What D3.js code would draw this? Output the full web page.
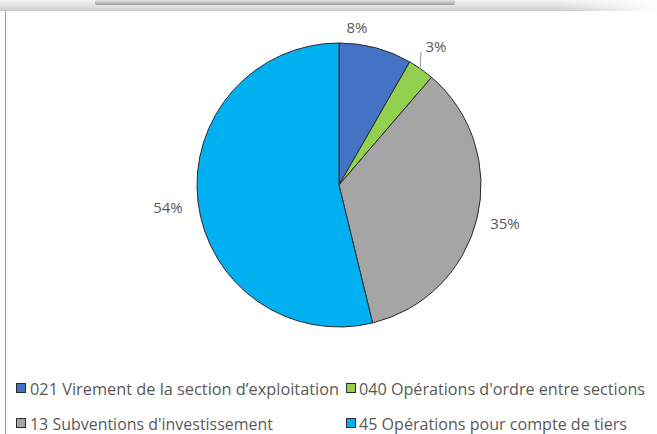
<!DOCTYPE html>
<html><head><meta charset="utf-8">
<script src="https://cdn.jsdelivr.net/npm/d3@7"></script>
<style>html,body{margin:0;padding:0;background:#fff;overflow:hidden}</style>
</head><body>
<svg id="c" width="657" height="434"></svg>
<script>
const categories = ["021 Virement de la section d\u2019exploitation", "040 Opérations d'ordre entre sections", "13 Subventions d'investissement", "45 Opérations pour compte de tiers"];
const values = [8.3, 3.0, 34.9, 53.8];
const labels = ["8%", "3%", "35%", "54%"];
const colors = ["#4472C4", "#92D050", "#A5A5A5", "#00B0F0"];

const svg = d3.select("#c");
const defs = svg.append("defs");
const g1 = defs.append("linearGradient").attr("id","topsh").attr("x1",0).attr("y1",0).attr("x2",0).attr("y2",1);
g1.append("stop").attr("offset","0%").attr("stop-color","#f4f4f4");
g1.append("stop").attr("offset","70%").attr("stop-color","#dcdcdc");
g1.append("stop").attr("offset","100%").attr("stop-color","#c8c8c8");
const g2 = defs.append("linearGradient").attr("id","barsh").attr("x1",0).attr("y1",0).attr("x2",0).attr("y2",1);
g2.append("stop").attr("offset","0%").attr("stop-color","#e4e4e4");
g2.append("stop").attr("offset","100%").attr("stop-color","#9c9c9c");
const g3 = defs.append("linearGradient").attr("id","fadeR").attr("x1",0).attr("y1",0).attr("x2",1).attr("y2",0);
g3.append("stop").attr("offset","0%").attr("stop-color","#fff").attr("stop-opacity",0);
g3.append("stop").attr("offset","100%").attr("stop-color","#fff").attr("stop-opacity",1);

// top decoration
svg.append("rect").attr("x",0).attr("y",0).attr("width",657).attr("height",11).attr("fill","url(#topsh)");
svg.append("rect").attr("x",95).attr("y",0).attr("width",360).attr("height",5).attr("rx",2).attr("fill","url(#barsh)");
svg.append("rect").attr("x",560).attr("y",0).attr("width",97).attr("height",11).attr("fill","url(#fadeR)");
svg.append("rect").attr("x",5).attr("y",11).attr("width",652).attr("height",423).attr("fill","#fff");
svg.append("line").attr("x1",5.5).attr("y1",11).attr("x2",5.5).attr("y2",434).attr("stroke","#9a9a9a").attr("stroke-width",1);

const cx = 339, cy = 185, r = 142;
const pie = d3.pie().sort(null).value(d => d)(values);
const arc = d3.arc().innerRadius(0).outerRadius(r);
const gp = svg.append("g").attr("transform", `translate(${cx},${cy})`);
gp.selectAll("path").data(pie).join("path")
  .attr("d", arc)
  .attr("fill", (d,i) => colors[i])
  .attr("stroke", "#2a2a2a").attr("stroke-width", 1).attr("stroke-linejoin","round");

// labels
const labelPos = [[357, 33], [436, 52], [505, 229], [168, 213]];
svg.selectAll("text.pl").data(pie).join("text").attr("class","pl")
  .attr("x", (d,i) => labelPos[i][0]).attr("y", (d,i) => labelPos[i][1])
  .attr("text-anchor","middle")
  .attr("font-family","'Open Sans', sans-serif").attr("font-size",15)
  .attr("fill","#595959")
  .text((d,i) => labels[i]);
// leader line for small slice
svg.append("line").attr("x1",421).attr("y1",52).attr("x2",420).attr("y2",70)
  .attr("stroke","#a6a6a6").attr("stroke-width",1.2);

// legend
const legPos = [[16, 383, 30, 309], [346, 383, 359, 286], [16, 418, 30, 243], [346, 418, 359, 268]];
const lg = svg.append("g");
categories.forEach((c,i) => {
  const p = legPos[i];
  lg.append("rect").attr("x", p[0]+0.5).attr("y", p[1]+0.5).attr("width", 9).attr("height", 9)
    .attr("fill", colors[i]).attr("stroke","#2a2a2a").attr("stroke-width",1);
  lg.append("text").attr("x", p[2]).attr("y", p[1] + 11.5)
    .attr("font-family","'Open Sans', sans-serif").attr("font-size",15.5)
    .attr("fill","#595959")
    .attr("textLength", p[3]).attr("lengthAdjust","spacingAndGlyphs")
    .text(c);
});
</script>
</body></html>
